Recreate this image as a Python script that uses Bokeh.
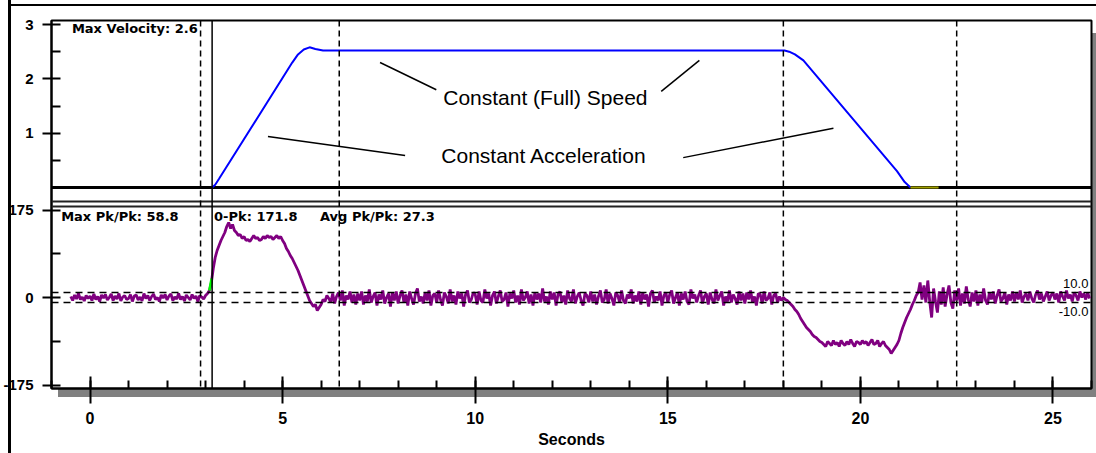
import numpy as np
from bokeh.plotting import figure
from bokeh.models import Range1d, FixedTicker, SingleIntervalTicker, Span, Label
from bokeh.embed import file_html
from bokeh.resources import INLINE

# ---------------- data ----------------
# velocity profile (seconds, velocity)
vel_t = [3.17, 3.25, 3.35, 5.25, 5.40, 5.55, 5.70, 5.85, 6.05,
         18.03, 18.15, 18.30, 18.52, 20.95, 21.15, 21.30]
vel_v = [0.00, 0.05, 0.16, 2.30, 2.45, 2.54, 2.58, 2.55, 2.52,
         2.52, 2.50, 2.45, 2.34, 0.30, 0.10, 0.00]
idle_t = [21.30, 22.03]
idle_v = [0.0, 0.0]

# vibration signal, sampled every 0.05 s starting at -0.5 s (one row per second)
vib_t0 = -0.5
vib_dt = 0.05
vib = [
    2, -6, 5, -3, 8, -4, 1, -7, 4, -2,                                             # -0.5
    3, -6, 7, -4, 2, -8, 5, -1, 6, -5, 0, 7, -6, 3, -3, 8, -7, 1, 4, -4,           # 0
    -2, 6, -8, 3, 5, -5, 1, -7, 8, -2, 4, -6, 2, 7, -4, 0, -8, 5, -1, 6,           # 1
    -5, 3, 7, -6, 1, -3, 8, -4, 2, -7, 5, 0, -5, 6, -2, 3, -8, 4, 1, -3,           # 2
    4, 8, 14, 30, 58, 80, 94, 104, 114, 122, 130, 142, 150, 138, 146, 134, 130, 124, 126, 118,   # 3
    122, 114, 116, 112, 118, 124, 118, 120, 114, 116, 122, 118, 124, 120, 122, 116, 120, 124, 118, 122,  # 4
    114, 108, 98, 92, 84, 78, 70, 62, 54, 44, 34, 24, 14, 4, -6, -12, -18, -14, -26, -20,  # 5
    -14, -4, -8, 4, -2, -10, 8, -12, 2, 10, -6, 14, -16, 4, -4, 12, -10, 6, -14, 8,      # 6
    -6, 12, -14, 4, -8, 16, -10, 2, 10, -16, 6, -4, 14, -12, 0, 8, -18, 10, -6, 12,      # 7
    -12, 4, 14, -10, 6, -16, 12, -2, -14, 8, 18, -8, 2, -12, 10, -6, 14, -16, 4, 8,      # 8
    -10, 14, -4, -16, 10, 2, -12, 16, -8, 4, -14, 12, -2, 8, -18, 6, 14, -10, -4, 10,    # 9
    6, -14, 12, -6, -10, 16, -2, 8, -16, 4, 12, -12, 2, 14, -8, -4, 10, -18, 8, -2,      # 10
    14, -10, 4, -14, 16, -6, 0, 12, -12, 6, -16, 10, -4, 8, -10, 18, -8, 2, -14, 12,     # 11
    -4, 10, -16, 6, 12, -10, 4, -14, 14, -2, -8, 16, -12, 2, 10, -6, -16, 8, 4, -10,     # 12
    12, -8, 6, -14, 2, 14, -10, -4, 16, -12, 8, -2, -16, 10, 4, -10, 14, -6, -12, 6,     # 13
    -2, 16, -12, 4, -8, 12, -14, 10, -4, 6, -18, 8, 14, -10, 2, -6, 12, -16, 4, 10,      # 14
    -10, 6, 14, -12, 0, 10, -16, 8, -4, 12, -8, -14, 16, -2, 6, -10, 4, 14, -12, 2,      # 15
    8, -14, 10, -4, -12, 16, -6, 4, 12, -16, 2, -8, 14, -10, 6, -2, -14, 12, -6, 8,      # 16
    -12, 10, -4, 14, -10, 2, -16, 8, 6, -12, 12, -6, -2, 10, -14, 4, 8, -10, 2, -6,      # 17
    0, -4, -6, -10, -14, -18, -24, -28, -34, -42, -48, -54, -60, -64, -68, -74, -78, -80, -84, -88,  # 18
    -90, -94, -98, -88, -92, -96, -86, -94, -90, -98, -86, -92, -96, -88, -94, -84, -92, -98, -88, -90,  # 19
    -94, -86, -92, -88, -96, -90, -84, -94, -92, -86, -98, -92, -88, -96, -100, -104, -112, -106, -100, -94,  # 20
    -86, -72, -60, -50, -40, -32, -24, -14, -6, 4, 10, 30, -4, 24, -10, 34, -8, -40, 18, -8,  # 21
    -30, 12, -14, 20, -18, 6, 24, -10, -22, 14, -6, 18, -16, 8, -12, 22, -4, -18, 10, -8,    # 22
    14, -16, 6, -10, 18, -6, -14, 10, -4, 12, -12, 4, 16, -8, -2, 10, -14, 6, -6, 12,        # 23
    -8, 10, -4, 14, -10, 2, 8, -6, 12, -2, -10, 6, 14, -4, 8, -8, 2, 12, -6, 4,              # 24
    10, -4, 8, -10, 12, 2, -6, 14, -2, 6, -8, 10, 4, -6, 12, 0, 8, -4, 10, -2,               # 25
]
trig_t = [3.10, 3.16]
trig_v = [14, 38]

limit_hi = 10.0
limit_lo = -10.0
markers_dashed = [2.87, 6.47, 18.0, 22.5]
marker_solid = 3.17

vel_ticks = [1, 2, 3]
vel_minor = [0.5, 1.5, 2.5]
vib_ticks = [175, 0, -175]
vib_tick_labels = ["175", "0", "-175"]
vib_minor = [87.5, -87.5]

# annotation pointer lines (seconds, velocity)
ptr_x0 = [7.53, 14.83, 4.62, 15.40]
ptr_y0 = [2.30, 1.77, 0.94, 0.55]
ptr_x1 = [8.99, 15.82, 8.18, 19.30]
ptr_y1 = [1.80, 2.34, 0.59, 1.09]

# ---------------- figure ----------------
VEL_LO, VEL_HI = -3.70, 3.074
VIB_LO, VIB_HI = -182.0, 554.0


def vib_to_vel(v):
    return VEL_LO + (v - VIB_LO) / (VIB_HI - VIB_LO) * (VEL_HI - VEL_LO)


frame_bg = ", ".join([
    "linear-gradient(#000,#000) 8px 0px / 3px 453px no-repeat",
    "linear-gradient(#000,#000) 10px 4px / 1086px 2px no-repeat",
    "linear-gradient(#808080,#808080) 1092px 33px / 4px 364px no-repeat",
    "linear-gradient(#808080,#808080) 58px 389px / 1038px 8px no-repeat",
    "#ffffff",
])

p = figure(width=1096, height=453, output_backend="svg", toolbar_location=None,
           x_range=Range1d(-1, 26), y_range=Range1d(VEL_LO, VEL_HI),
           min_border_left=49, min_border_right=5, min_border_top=20, min_border_bottom=65,
           background_fill_color="white", border_fill_color="white", border_fill_alpha=0,
           styles={"background": frame_bg})
p.extra_y_ranges = {"vib": Range1d(VIB_LO, VIB_HI)}
p.grid.visible = False
p.outline_line_color = "black"
p.outline_line_width = 2

# x axis
xa = p.xaxis[0]
xa.ticker = SingleIntervalTicker(interval=5, num_minor_ticks=5)
xa.axis_line_width = 2
xa.axis_line_color = "black"
xa.major_tick_in = 12
xa.major_tick_out = 15
xa.major_tick_line_width = 2
xa.major_tick_line_color = "black"
xa.minor_tick_in = 8
xa.minor_tick_out = 0
xa.minor_tick_line_width = 2
xa.minor_tick_line_color = "black"
xa.major_label_text_font = "Liberation Sans"
xa.major_label_text_font_style = "bold"
xa.major_label_text_font_size = "16px"
xa.major_label_text_color = "black"
xa.major_label_standoff = 8
xa.axis_label = "Seconds"
xa.axis_label_text_font = "Liberation Sans"
xa.axis_label_text_font_style = "bold"
xa.axis_label_text_font_size = "16px"
xa.axis_label_text_color = "black"
xa.axis_label_standoff = 4

# y axis (both panels share the left axis)
ya = p.yaxis[0]
ticks = list(vel_ticks) + [vib_to_vel(v) for v in vib_ticks]
minors = list(vel_minor) + [vib_to_vel(v) for v in vib_minor]
ya.ticker = FixedTicker(ticks=ticks, minor_ticks=minors)
overrides = {float(t): str(t) for t in vel_ticks}
for v, lab in zip(vib_ticks, vib_tick_labels):
    overrides[vib_to_vel(v)] = lab
ya.major_label_overrides = overrides
ya.axis_line_width = 2
ya.axis_line_color = "black"
ya.major_tick_in = 9
ya.major_tick_out = 9
ya.major_tick_line_width = 2
ya.major_tick_line_color = "black"
ya.minor_tick_in = 9
ya.minor_tick_out = 0
ya.minor_tick_line_width = 2
ya.minor_tick_line_color = "black"
ya.major_label_text_font = "Liberation Sans"
ya.major_label_text_font_style = "bold"
ya.major_label_text_font_size = "15px"
ya.major_label_text_color = "black"
ya.major_label_standoff = 9

# panel separators
p.add_layout(Span(location=0, dimension="width", line_color="black", line_width=3,
                  level="underlay"))
p.add_layout(Span(location=192, dimension="width", y_range_name="vib",
                  line_color="#222222", line_width=2))
p.add_layout(Span(location=182, dimension="width", y_range_name="vib",
                  line_color="#222222", line_width=2))

# velocity
p.line(vel_t, vel_v, line_color="#0000FF", line_width=2)
p.line(idle_t, idle_v, line_color="#A0A000", line_width=2)

# vibration
vib_x = [round(vib_t0 + i * vib_dt, 3) for i in range(len(vib))]
p.line(vib_x, vib, y_range_name="vib", line_color="#800080", line_width=2.8)
p.line(trig_t, trig_v, y_range_name="vib", line_color="#00FF00", line_width=2.8)

# limit lines
for lim in (limit_hi, limit_lo):
    p.add_layout(Span(location=lim, dimension="width", y_range_name="vib",
                      line_color="black", line_width=1.5, line_dash="7 5"))
p.add_layout(Label(x=25.92, y=28, y_range_name="vib", text=f"{limit_hi:.1f}",
                   text_align="right", text_baseline="middle", text_font="Liberation Sans",
                   text_font_size="13px", text_color="black"))
p.add_layout(Label(x=25.92, y=-28, y_range_name="vib", text=f"{limit_lo:.1f}",
                   text_align="right", text_baseline="middle", text_font="Liberation Sans",
                   text_font_size="13px", text_color="black"))

# markers
for m in markers_dashed:
    p.add_layout(Span(location=m, dimension="height", line_color="black",
                      line_width=1.5, line_dash="6 4"))
p.add_layout(Span(location=marker_solid, dimension="height", line_color="black",
                  line_width=1.5))

# statistic texts
stat_font = dict(text_font="DejaVu Sans", text_font_style="bold", text_font_size="13px",
                 text_color="black", text_baseline="middle", text_align="left")
p.add_layout(Label(x=-0.47, y=2.93, text="Max Velocity: 2.6", **stat_font))
p.add_layout(Label(x=-0.75, y=162, y_range_name="vib", text="Max Pk/Pk: 58.8", **stat_font))
p.add_layout(Label(x=3.22, y=162, y_range_name="vib", text="0-Pk: 171.8", **stat_font))
p.add_layout(Label(x=5.97, y=162, y_range_name="vib", text="Avg Pk/Pk: 27.3", **stat_font))

# phase annotations
ann_font = dict(text_font="Liberation Sans", text_font_size="21px", text_color="black",
                text_baseline="middle", text_align="left")
p.add_layout(Label(x=9.17, y=1.66, text="Constant (Full) Speed", **ann_font))
p.add_layout(Label(x=9.12, y=0.59, text="Constant Acceleration", **ann_font))
p.segment(x0=ptr_x0, y0=ptr_y0, x1=ptr_x1, y1=ptr_y1, line_color="black", line_width=1.5)

open("out.html", "w").write(file_html(p, INLINE))
